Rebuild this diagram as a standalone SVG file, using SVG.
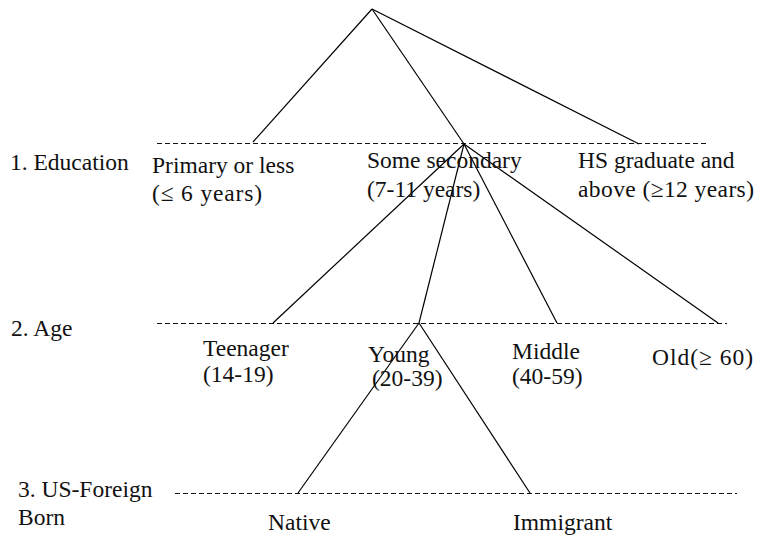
<svg xmlns="http://www.w3.org/2000/svg" width="757" height="539" viewBox="0 0 757 539">
<style>
.t{font-family:'Liberation Serif','DejaVu Serif',serif;font-size:23.5px;fill:#111}
.lvl{stroke:#111;stroke-width:1;stroke-dasharray:5,3;fill:none}
.edge{stroke:#000;stroke-width:1.2;fill:none}
</style>
<rect width="757" height="539" fill="#fff"/>
<g id="levels">
<line class="lvl" x1="157" y1="143.5" x2="707" y2="143.5"/>
<line class="lvl" x1="157" y1="323.5" x2="727" y2="323.5"/>
<line class="lvl" x1="175" y1="493.5" x2="737" y2="493.5"/>
</g>
<g id="level-labels" class="t" font-family="Liberation Serif, serif">
<text x="10" y="170">1. Education</text>
<text x="11" y="336">2. Age</text>
<text x="18" y="497">3. US-Foreign</text>
<text x="18" y="525">Born</text>
</g>
<g id="connectors">
<line class="edge" x1="372" y1="9" x2="253" y2="142"/>
<line class="edge" x1="372" y1="9" x2="464" y2="144"/>
<line class="edge" x1="372" y1="9" x2="639" y2="144"/>
<line class="edge" x1="464" y1="144" x2="273" y2="323"/>
<line class="edge" x1="464" y1="144" x2="419" y2="323"/>
<line class="edge" x1="464" y1="144" x2="557" y2="323"/>
<line class="edge" x1="464" y1="144" x2="718" y2="323"/>
<line class="edge" x1="419" y1="323" x2="298" y2="493"/>
<line class="edge" x1="419" y1="323" x2="530" y2="493"/>
</g>
<g class="t" font-family="Liberation Serif, serif">
<g id="primary"><text x="152" y="173">Primary or less</text><text x="152" y="201" textLength="110" lengthAdjust="spacing">(≤ 6 years)</text></g>
<g id="secondary"><text x="367" y="168">Some secondary</text><text x="367" y="197">(7-11 years)</text></g>
<g id="hsgrad"><text x="578" y="168">HS graduate and</text><text x="578" y="197" textLength="176" lengthAdjust="spacing">above (≥12 years)</text></g>
<g id="teenager"><text x="203" y="356">Teenager</text><text x="203" y="382">(14-19)</text></g>
<g id="young"><text x="368" y="362">Young</text><text x="372" y="386">(20-39)</text></g>
<g id="middle"><text x="512" y="359">Middle</text><text x="512" y="384">(40-59)</text></g>
<g id="old"><text x="652" y="365" textLength="101" lengthAdjust="spacing">Old(≥ 60)</text></g>
<g id="native"><text x="268" y="530">Native</text></g>
<g id="immigrant"><text x="513" y="530">Immigrant</text></g>
</g>
</svg>
